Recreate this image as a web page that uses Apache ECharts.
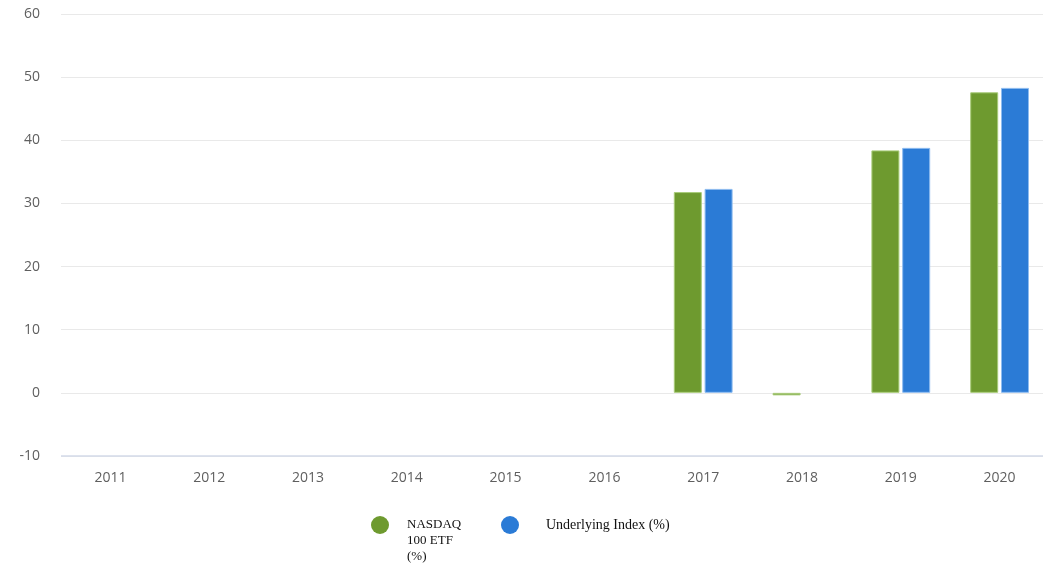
<!DOCTYPE html>
<html><head><meta charset="utf-8">
<script src="https://cdn.jsdelivr.net/npm/echarts@6/dist/echarts.min.js"></script>
<style>html,body{margin:0;padding:0;background:#fff;overflow:hidden}#c{width:1049px;height:565px}</style>
</head><body><div id="c"></div>
<script>
var categories = ['2011','2012','2013','2014','2015','2016','2017','2018','2019','2020'];
var etfValues = [null,null,null,null,null,null,31.8,-0.4,38.4,47.6];
var indexValues = [null,null,null,null,null,null,32.3,null,38.8,48.3];
var yTicks = {min:-10, max:60, interval:10};
var seriesNames = ['NASDAQ 100 ETF (%)','Underlying Index (%)'];

var chart = echarts.init(document.getElementById('c'));
var serif = '"Liberation Serif", "DejaVu Serif", serif';
var tallDot = 'path://M9,50M0,9A9,9,0,1,1,18,9A9,9,0,1,1,0,9Z';
chart.setOption({
  animation:false,
  grid:{left:61, top:14, right:0, bottom:109, containLabel:false},
  legend:[{
    data:[seriesNames[0]], left:366, top:511, icon:tallDot, itemWidth:18, itemHeight:50, itemGap:0,
    itemStyle:{borderWidth:0},
    formatter:function(){return 'NASDAQ\n100 ETF\n(%)';},
    textStyle:{fontFamily:serif, fontSize:13, color:'#111', lineHeight:16, padding:[0,0,0,13]}
  },{
    data:[seriesNames[1]], left:496, top:511, icon:'circle', itemWidth:18, itemHeight:18,
    itemStyle:{borderWidth:0},
    textStyle:{fontFamily:serif, fontSize:14, color:'#111', padding:[0,0,0,22]}
  }],
  xAxis:{type:'category', data:categories,
    axisLine:{show:false}, axisTick:{show:false},
    axisLabel:{color:'#5f5f5f', fontSize:14, fontFamily:'"Open Sans", sans-serif', margin:15}
  },
  yAxis:{type:'value', min:yTicks.min, max:yTicks.max, interval:yTicks.interval,
    axisLabel:{color:'#5f5f5f', fontSize:14, fontFamily:'"Open Sans", sans-serif', margin:21},
    splitLine:{lineStyle:{color:'#e9e9e9', width:1}},
    axisLine:{show:false}, axisTick:{show:false}
  },
  series:[
    {name:seriesNames[0], type:'bar', data:etfValues, barWidth:28, barGap:'10%',
      itemStyle:{color:'#6e9a2f', borderColor:'#a9cc7a', borderWidth:1}},
    {name:seriesNames[1], type:'bar', data:indexValues, barWidth:28,
      itemStyle:{color:'#2b7bd6', borderColor:'#8ebcf0', borderWidth:1},
      markLine:{silent:true, symbol:'none', label:{show:false},
        lineStyle:{color:'#d3dae8', type:'solid', width:1.5}, data:[{yAxis:yTicks.min}]}}
  ]
});
</script></body></html>
